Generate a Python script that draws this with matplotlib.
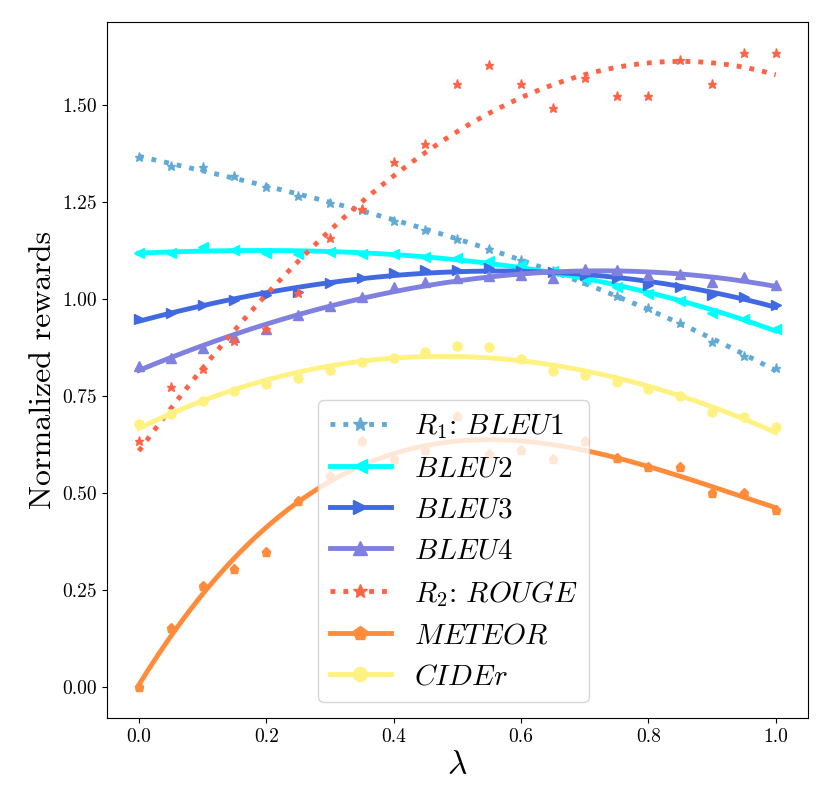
import numpy as np
import matplotlib
matplotlib.use("Agg")
import matplotlib.pyplot as plt
from matplotlib.lines import Line2D

plt.rcParams['font.family'] = 'serif'
plt.rcParams['font.serif'] = ['cmr10']
plt.rcParams['mathtext.fontset'] = 'cm'
plt.rcParams['axes.formatter.use_mathtext'] = True

lam = [0.0, 0.05, 0.1, 0.15, 0.2, 0.25, 0.3, 0.35, 0.4, 0.45, 0.5,
       0.55, 0.6, 0.65, 0.7, 0.75, 0.8, 0.85, 0.9, 0.95, 1.0]

bleu1 = [1.365, 1.342, 1.340, 1.315, 1.289, 1.265, 1.247, 1.228, 1.201, 1.177, 1.153,
         1.127, 1.099, 1.070, 1.045, 1.008, 0.975, 0.937, 0.887, 0.853, 0.820]
bleu2 = [1.118, 1.117, 1.133, 1.125, 1.118, 1.115, 1.120, 1.115, 1.115, 1.108, 1.105,
         1.096, 1.086, 1.070, 1.050, 1.030, 1.013, 0.994, 0.962, 0.948, 0.922]
bleu3 = [0.948, 0.963, 0.983, 0.996, 1.009, 1.017, 1.039, 1.052, 1.065, 1.075, 1.075,
         1.080, 1.070, 1.068, 1.060, 1.052, 1.034, 1.030, 1.009, 1.005, 0.983]
bleu4 = [0.827, 0.847, 0.873, 0.900, 0.921, 0.957, 0.980, 1.004, 1.030, 1.043, 1.052,
         1.058, 1.060, 1.054, 1.077, 1.075, 1.060, 1.064, 1.043, 1.056, 1.034]
rouge = [0.634, 0.771, 0.819, 0.892, 0.921, 1.015, 1.155, 1.231, 1.353, 1.399, 1.554,
         1.601, 1.554, 1.491, 1.569, 1.523, 1.523, 1.616, 1.554, 1.632, 1.632]
meteor = [0.000, 0.151, 0.259, 0.304, 0.347, 0.478, 0.543, 0.632, 0.586, 0.609, 0.698,
          0.600, 0.609, 0.586, 0.632, 0.589, 0.566, 0.565, 0.500, 0.500, 0.454]
cider = [0.677, 0.703, 0.737, 0.761, 0.780, 0.796, 0.815, 0.836, 0.847, 0.862, 0.879,
         0.875, 0.845, 0.813, 0.804, 0.784, 0.767, 0.750, 0.707, 0.694, 0.668]

series = [
    (bleu1, r'$R_1$: $BLEU1$', '#62aad6', ':', '*'),
    (bleu2, r'$BLEU2$', '#00ffff', '-', '<'),
    (bleu3, r'$BLEU3$', '#4169e1', '-', '>'),
    (bleu4, r'$BLEU4$', '#8080e0', '-', '^'),
    (rouge, r'$R_2$: $ROUGE$', '#ff6347', ':', '*'),
    (meteor, r'$METEOR$', '#ff8c3a', '-', 'p'),
    (cider, r'$CIDEr$', '#fff282', '-', 'o'),
]

fig, ax = plt.subplots(figsize=(8.3, 8.07), dpi=100)
fig.subplots_adjust(left=0.129, right=0.973, top=0.973, bottom=0.110)

x = np.array(lam)
xs = np.linspace(0, 1, 200)
handles = []
for vals, label, color, ls, mk in series:
    # smooth trend through the measured points
    coef = np.polyfit(x, np.array(vals), 3)
    ax.plot(xs, np.polyval(coef, xs), color=color, ls=ls, lw=3.5)
    ax.plot(x, vals, ls='none', marker=mk, color=color, ms=6.5)
    handles.append(Line2D([], [], color=color, ls=ls, lw=3.5, marker=mk, ms=10, label=label))

ax.set_yticks([0.0, 0.25, 0.5, 0.75, 1.0, 1.25, 1.5])
ax.set_xticks([0.0, 0.2, 0.4, 0.6, 0.8, 1.0])
ax.yaxis.set_major_formatter(matplotlib.ticker.FormatStrFormatter('%.2f'))
ax.xaxis.set_major_formatter(matplotlib.ticker.FormatStrFormatter('%.1f'))
ax.tick_params(labelsize=14)
ax.set_xlabel(r'$\lambda$', fontsize=24)
ax.set_ylabel('Normalized rewards', fontsize=23)

ax.legend(handles=handles, fontsize=21, handlelength=2.1, labelspacing=0.5,
          loc='lower left', bbox_to_anchor=(0.301, 0.023), borderaxespad=0)

fig.savefig('out.png')
